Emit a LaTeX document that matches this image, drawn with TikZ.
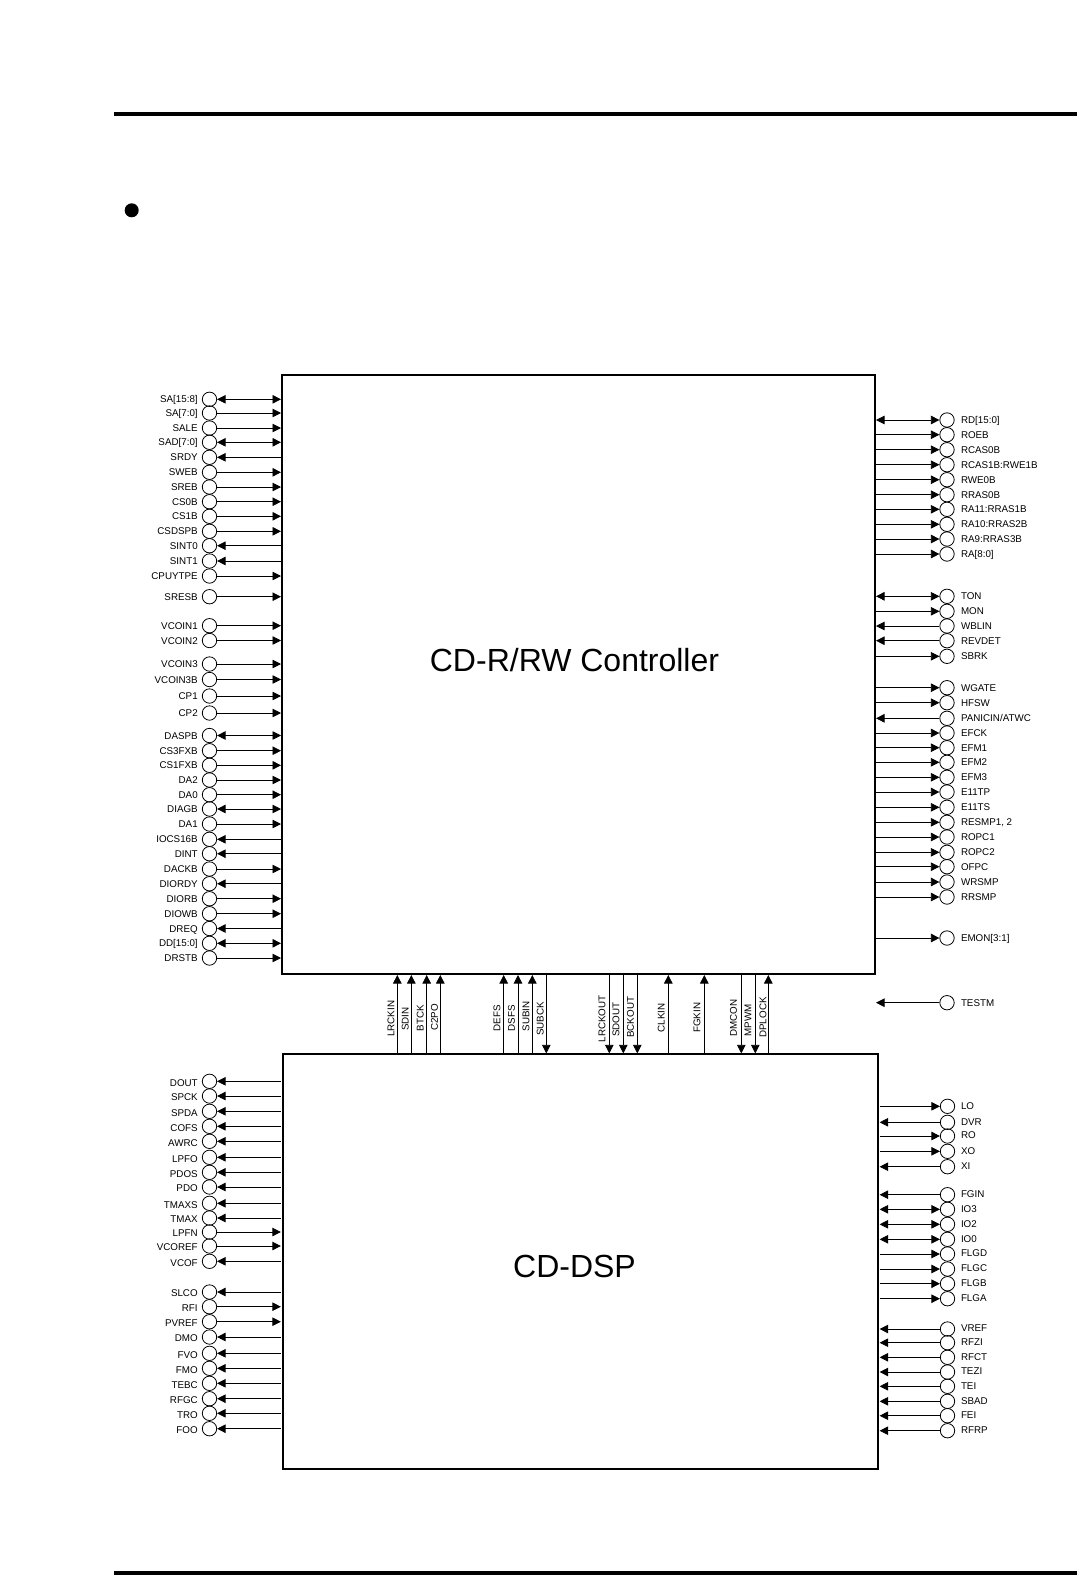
\documentclass[tikz,border=0pt]{standalone}
\usepackage{fontspec}
\setmainfont{Liberation Sans}
\usetikzlibrary{positioning, arrows.meta}

\tikzset{
  padc/.style={circle, draw, line width=0.8pt, minimum size=14.4pt, inner sep=0pt},
  padname/.style={inner sep=0pt, text height=7.1pt, text depth=0pt},
  chipbox/.style={draw, rectangle, inner sep=0pt},
  chipname/.style={inner sep=0pt, font=\fontsize{32}{36}\selectfont},
  padin/.style={->},
  padout/.style={<-},
  padio/.style={<->},
  >={Triangle[length=8.5pt,width=8.5pt]},
}

\begin{document}
\begin{tikzpicture}[x=1pt, y=-1pt, line width=0.8pt, font=\fontsize{9.8}{11}\selectfont]
\useasboundingbox (0,0) rectangle (1077,1575);
\draw[line width=4pt] (114,114)--(1077,114);
\draw[line width=4pt] (114,1573)--(1077,1573);
\fill (131.7,210.3) circle (7);

\node[chipbox, line width=2pt, minimum width=593pt, minimum height=599pt] (ctrl) at (578.5,674.5) {};
\node[chipbox, line width=1.3pt, minimum width=595pt, minimum height=415pt] (dsp) at (580.5,1261.5) {};
\node[chipname] (ctrlname) at (574.5,660) {CD-R/RW Controller};
\node[chipname] (dspname) at (574.5,1266) {CD-DSP};

% controller, left side
\foreach \y/\name/\dir [count=\i] in {
  399.3/{SA[15:8]}/padio, 413/{SA[7:0]}/padin, 428/SALE/padin, 442.3/{SAD[7:0]}/padio,
  457.3/SRDY/padout, 472.3/SWEB/padin, 487/SREB/padin, 501.7/CS0B/padin, 516.3/CS1B/padin,
  531.3/CSDSPB/padin, 545.7/SINT0/padout, 561/SINT1/padout, 576/CPUYTPE/padin, 596.7/SRESB/padin,
  625.7/VCOIN1/padin, 640.5/VCOIN2/padin, 664/VCOIN3/padin, 679.5/VCOIN3B/padin, 696/CP1/padin,
  713/CP2/padin, 735.5/DASPB/padio, 750.7/CS3FXB/padin, 765.3/CS1FXB/padin, 780/DA2/padin,
  794.7/DA0/padin, 809/DIAGB/padio, 824/DA1/padin, 839.3/IOCS16B/padout, 853.7/DINT/padout,
  869/DACKB/padin, 883.7/DIORDY/padout, 898.7/DIORB/padin, 913.7/DIOWB/padin, 928.5/DREQ/padout,
  943.3/{DD[15:0]}/padio, 958/DRSTB/padin} {
  \node[padc] (cl\i) at (209.5,\y) {};
  \node[padname, left=3.8pt of cl\i] (cln\i) {\name};
  \draw[\dir] (cl\i.east) -- (cl\i.east -| ctrl.west);
}

% controller, right side
\foreach \y/\name/\dir [count=\i] in {
  420/{RD[15:0]}/padio, 434.7/ROEB/padin, 449.7/RCAS0B/padin, 464.7/{RCAS1B:RWE1B}/padin,
  479.7/RWE0B/padin, 494.7/RRAS0B/padin, 509.3/{RA11:RRAS1B}/padin, 524.3/{RA10:RRAS2B}/padin,
  539/{RA9:RRAS3B}/padin, 554/{RA[8:0]}/padin, 596.3/TON/padio, 611.3/MON/padin, 626/WBLIN/padout,
  640.7/REVDET/padout, 656.3/SBRK/padin, 687.7/WGATE/padin, 702.7/HFSW/padin,
  718.3/{PANICIN/ATWC}/padout, 733/EFCK/padin, 747.7/EFM1/padin, 762.3/EFM2/padin, 777.3/EFM3/padin,
  792/E11TP/padin, 807.3/E11TS/padin, 822.3/{RESMP1, 2}/padin, 837/ROPC1/padin, 852.3/ROPC2/padin,
  866.7/OFPC/padin, 882/WRSMP/padin, 897/RRSMP/padin, 938/{EMON[3:1]}/padin, 1002.7/TESTM/padout} {
  \node[padc] (cr\i) at (947,\y) {};
  \node[padname, right=6pt of cr\i] (crn\i) {\name};
  \draw[\dir] (cr\i.west -| ctrl.east) -- (cr\i.west);
}

% dsp, left side
\foreach \y/\name/\dir [count=\i] in {
  1081.3/DOUT/padout, 1096/SPCK/padout, 1111.3/SPDA/padout, 1126.3/COFS/padout, 1141.3/AWRC/padout,
  1157.3/LPFO/padout, 1172.3/PDOS/padout, 1187/PDO/padout, 1203.3/TMAXS/padout, 1218/TMAX/padout,
  1232/LPFN/padin, 1246/VCOREF/padin, 1261.3/VCOF/padout, 1292/SLCO/padout, 1306.7/RFI/padin,
  1321.7/PVREF/padin, 1337/DMO/padout, 1353.3/FVO/padout, 1368.3/FMO/padout, 1383.3/TEBC/padout,
  1398.7/RFGC/padout, 1413.3/TRO/padout, 1428.7/FOO/padout} {
  \node[padc] (dl\i) at (209.5,\y) {};
  \node[padname, left=3.8pt of dl\i, yshift=-1.3pt] (dln\i) {\name};
  \draw[\dir, shorten >=1.5pt] (dl\i.east) -- (dl\i.east -| dsp.west);
}

% dsp, right side
\foreach \y/\name/\dir [count=\i] in {
  1106.3/LO/padin, 1122.3/DVR/padout, 1136/RO/padin, 1151.3/XO/padin, 1166.7/XI/padout,
  1194.7/FGIN/padout, 1209.3/IO3/padio, 1224.3/IO2/padio, 1239.3/IO0/padio, 1254/FLGD/padin,
  1269/FLGC/padin, 1283.7/FLGB/padin, 1298.7/FLGA/padin, 1329/VREF/padout, 1342.7/RFZI/padout,
  1357.3/RFCT/padout, 1372/TEZI/padout, 1386.3/TEI/padout, 1401.3/SBAD/padout, 1415.7/FEI/padout,
  1430.7/RFRP/padout} {
  \node[padc] (dr\i) at (947.5,\y) {};
  \node[padname, right=5.5pt of dr\i, yshift=0.7pt] (drn\i) {\name};
  \draw[\dir, shorten <=1pt] (dr\i.west -| dsp.east) -- (dr\i.west);
}

% signals between the two blocks
\foreach \x/\lx/\ly/\name/\dir [count=\i] in {
  397.3/390.7/1037/LRCKIN/padout, 411.3/405/1031/SDIN/padout, 426.7/420/1031.7/BTCK/padout,
  440.3/434.3/1031/C2PO/padout, 503.7/496.7/1031.7/DEFS/padout, 518/511.3/1031.7/DSFS/padout,
  532.3/525.7/1031.7/SUBIN/padout, 546.3/540/1036/SUBCK/padin, 609.3/601.7/1042.7/LRCKOUT/padin,
  623.3/615.7/1037/SDOUT/padin, 637.3/630.3/1038/BCKOUT/padin, 668.3/661/1032.7/CLKIN/padout,
  704.3/696.7/1033/FGKIN/padout, 741.3/733.3/1037/DMCON/padin, 755.3/747.7/1036.7/MPWM/padin,
  768.3/762.7/1038/DPLOCK/padout} {
  \coordinate (bt\i) at (\x,1000);
  \node[padname, rotate=90, anchor=west] (btn\i) at (\lx,\ly) {\name};
  \draw[\dir] (bt\i |- ctrl.south) -- (bt\i |- dsp.north);
}
\end{tikzpicture}
\end{document}
